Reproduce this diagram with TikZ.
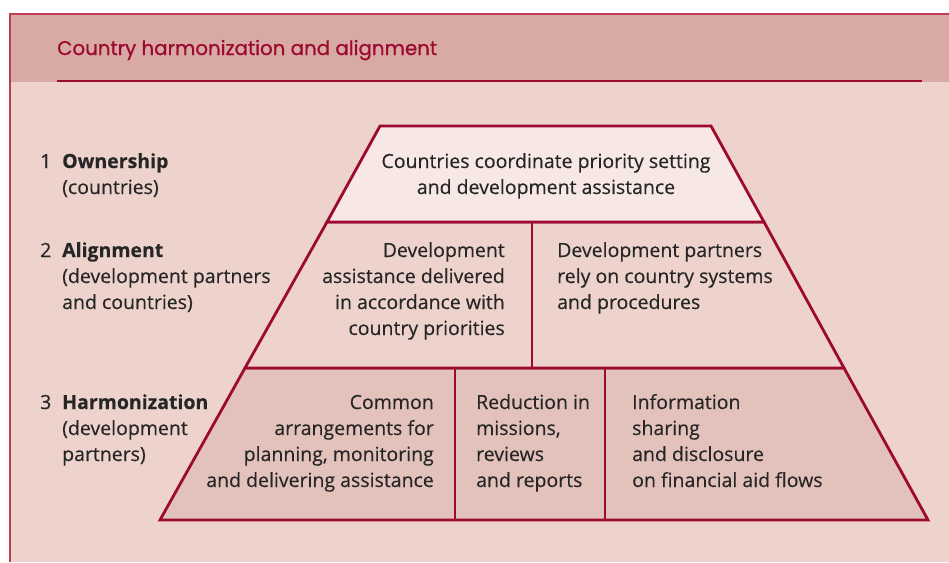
\documentclass[tikz,border=0pt]{standalone}
\usepackage{fontspec}
\setmainfont[FakeBold=0.3]{Open Sans}
\newfontfamily\titlefont[FakeBold=0.8]{Poppins}
\usetikzlibrary{positioning}

\definecolor{wine}{HTML}{9C0A30}
\definecolor{frameline}{HTML}{C03A5A}
\definecolor{headfill}{HTML}{D9A9A4}
\definecolor{panelfill}{HTML}{EDD3CC}
\definecolor{topfill}{HTML}{F7E8E5}
\definecolor{midfill}{HTML}{EDD3CC}
\definecolor{lowfill}{HTML}{E4C2BC}
\definecolor{inkgray}{HTML}{262626}

\begin{document}
\begin{tikzpicture}[
  x=1pt, y=-1pt,
  every node/.style={font=\fontsize{19.5}{26}\selectfont, text=inkgray, inner sep=0pt},
  tier/.style={draw=wine, line width=2.8pt, line join=miter},
  divider/.style={draw=wine, line width=2.8pt},
  leftlabel/.style={anchor=base west, align=left},
  rightlabel/.style={anchor=base east, align=right},
  midlabel/.style={anchor=base, align=center}
]

% page and panel
\useasboundingbox (0,0) rectangle (949,562);
\fill[white] (0,0) rectangle (949,562);
\fill[panelfill] (10,14) rectangle (949,562);
\fill[headfill] (10,14) rectangle (949,82);
\draw[frameline, line width=1.2pt] (10,562) -- (10,14) -- (949,14);

% header
\node[anchor=base west, font=\titlefont\fontsize{19.8}{24}\selectfont, text=wine] (title) at (57,55) {Country harmonization and alignment};
\draw[wine, line width=1.3pt] (57,81) -- (922,81);

% pyramid corners
\coordinate (apexL) at (380,126);
\coordinate (apexR) at (711,126);
\coordinate (upL) at (327,222);
\coordinate (upR) at (764,222);
\coordinate (lowL) at (245,368);
\coordinate (lowR) at (844,368);
\coordinate (baseL) at (160,520);
\coordinate (baseR) at (928,520);

% tiers
\filldraw[tier, fill=lowfill] (lowL) -- (lowR) -- (baseR) -- (baseL) -- cycle;
\filldraw[tier, fill=midfill] (upL) -- (upR) -- (lowR) -- (lowL) -- cycle;
\filldraw[tier, fill=topfill] (apexL) -- (apexR) -- (upR) -- (upL) -- cycle;

% dividers
\draw[divider] (532,222) -- (532,368);
\draw[divider] (455,368) -- (455,520);
\draw[divider] (605,368) -- (605,520);

% level labels (base = last line)
\node[anchor=base west] (num1) at (40,168) {1};
\node[leftlabel] (own) at (62,194) {\textbf{Ownership}\\(countries)};
\node[anchor=base west] (num2) at (40,257) {2};
\node[leftlabel] (ali) at (62,309) {\textbf{Alignment}\\(development partners\\and countries)};
\node[anchor=base west] (num3) at (40,409) {3};
\node[leftlabel] (har) at (62,461) {\textbf{Harmonization}\\(development\\partners)};

% tier texts
\node[midlabel] (coord) at (546,194) {Countries coordinate priority setting\\and development assistance};
\node[rightlabel] (deliv) at (505,335) {Development\\assistance delivered\\in accordance with\\country priorities};
\node[leftlabel] (rely) at (557,309) {Development partners\\rely on country systems\\and procedures};
\node[rightlabel] (common) at (434,487) {Common\\arrangements for\\planning, monitoring\\and delivering assistance};
\node[leftlabel] (reduce) at (476,487) {Reduction in\\missions,\\reviews\\and reports};
\node[leftlabel] (info) at (632,487) {Information\\sharing\\and disclosure\\on financial aid flows};

\end{tikzpicture}
\end{document}
